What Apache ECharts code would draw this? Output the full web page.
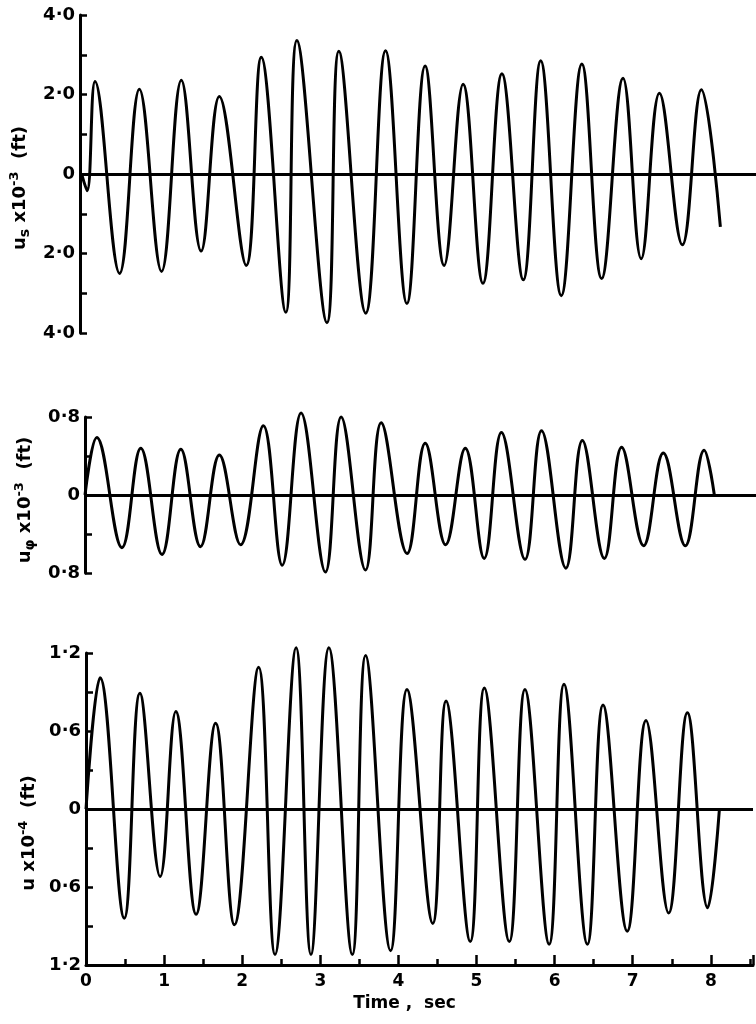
<!DOCTYPE html>
<html>
<head>
<meta charset="utf-8">
<script src="https://cdn.jsdelivr.net/npm/echarts@6/dist/echarts.min.js"></script>
<style>
html,body{margin:0;padding:0;background:#fff;}
#chart{width:756px;height:1024px;}
</style>
</head>
<body>
<div id="chart"></div>
<script>
// ---- data (time in s, displacement) ----
const topT = [0.02, 0.09, 0.19, 0.50, 0.75, 1.03, 1.28, 1.53, 1.76, 2.10, 2.29, 2.60, 2.74, 3.12, 3.27, 3.61, 3.86, 4.13, 4.36, 4.60, 4.84, 5.09, 5.33, 5.60, 5.82, 6.08, 6.34, 6.59, 6.86, 7.09, 7.32, 7.61, 7.85, 8.09];
const topV = [0, -0.42, 2.33, -2.50, 2.13, -2.45, 2.36, -1.94, 1.95, -2.30, 2.94, -3.48, 3.36, -3.74, 3.09, -3.50, 3.10, -3.26, 2.72, -2.30, 2.26, -2.75, 2.52, -2.66, 2.85, -3.06, 2.77, -2.63, 2.41, -2.13, 2.03, -1.78, 2.12, -1.33];

const midT = [0, 0.15, 0.47, 0.71, 0.98, 1.22, 1.47, 1.71, 1.98, 2.27, 2.51, 2.75, 3.06, 3.26, 3.57, 3.77, 4.10, 4.33, 4.59, 4.84, 5.08, 5.30, 5.60, 5.81, 6.12, 6.33, 6.61, 6.83, 7.11, 7.36, 7.64, 7.88, 8.01];
const midV = [0, 0.59, -0.54, 0.48, -0.61, 0.47, -0.53, 0.41, -0.51, 0.71, -0.72, 0.84, -0.79, 0.80, -0.77, 0.74, -0.60, 0.53, -0.51, 0.48, -0.65, 0.64, -0.66, 0.66, -0.75, 0.56, -0.65, 0.49, -0.52, 0.43, -0.52, 0.46, 0];

const botT = [0, 0.18, 0.49, 0.69, 0.95, 1.15, 1.41, 1.66, 1.90, 2.21, 2.42, 2.69, 2.88, 3.11, 3.41, 3.58, 3.90, 4.11, 4.44, 4.61, 4.92, 5.10, 5.42, 5.62, 5.93, 6.12, 6.42, 6.62, 6.93, 7.17, 7.46, 7.70, 7.96, 8.11];
const botV = [0, 1.01, -0.84, 0.89, -0.52, 0.75, -0.81, 0.66, -0.89, 1.09, -1.12, 1.24, -1.12, 1.24, -1.12, 1.18, -1.09, 0.92, -0.88, 0.83, -1.02, 0.93, -1.02, 0.92, -1.04, 0.96, -1.04, 0.80, -0.94, 0.68, -0.80, 0.74, -0.76, 0];

const xTickLabels = ['0', '1', '2', '3', '4', '5', '6', '7', '8'];
const topName = '{b|u}{sub|s}{b| x10}{sup|-3}{b|  (ft)}';
const midName = '{b|u}{sub|φ}{b| x10}{sup|-3}{b|  (ft)}';
const botName = '{b|u x10}{sup|-4}{b|  (ft)}';
const xName = 'Time ,  sec';

// ---- styling ----
const FONT = 'DejaVu Sans';
const BLACK = '#000';

function pairs(t, v) { return t.map((x, i) => [x, v[i]]); }

function yFmt(step10) {
  return function (v) {
    const r = Math.round(v * 10);
    if (r % step10 !== 0) return '';
    if (r === 0) return '0';
    return (Math.abs(r) / 10).toFixed(1).replace('.', '\u00B7');
  };
}

const nameRich = {
  b: { fontFamily: FONT, fontWeight: 'bold', fontSize: 18, color: BLACK, lineHeight: 24 },
  sub: { fontFamily: FONT, fontWeight: 'bold', fontSize: 14, color: BLACK, verticalAlign: 'bottom', lineHeight: 24 },
  sup: { fontFamily: FONT, fontWeight: 'bold', fontSize: 13, color: BLACK, verticalAlign: 'top', lineHeight: 24 }
};

function yAxis(gi, min, max, interval, step10, name, gap, shift) {
  return {
    type: 'value', gridIndex: gi, min: min, max: max, interval: interval,
    axisLine: { show: true, onZero: false, lineStyle: { color: BLACK, width: 3 } },
    axisTick: { show: true, inside: true, length: 7, lineStyle: { color: BLACK, width: 2.5 } },
    axisLabel: { formatter: yFmt(step10), color: BLACK, fontFamily: FONT, fontWeight: 'bold', fontSize: 18, margin: 5 },
    splitLine: { show: false },
    name: name, nameLocation: 'middle', nameRotate: 90, nameGap: gap,
    nameTextStyle: { rich: nameRich, padding: [0, shift, 0, 0] }
  };
}

function hiddenX(gi) {
  return {
    type: 'value', gridIndex: gi, min: 0, max: 8.54,
    axisLine: { show: false }, axisTick: { show: false }, axisLabel: { show: false }, splitLine: { show: false }
  };
}

function series(gi, t, v) {
  return {
    type: 'line', xAxisIndex: gi, yAxisIndex: gi,
    data: pairs(t, v), smooth: 0.4, showSymbol: false, clip: false,
    lineStyle: { color: BLACK, width: 3 },
    markLine: {
      silent: true, symbol: ['none', 'none'], label: { show: false },
      lineStyle: { color: BLACK, width: 3, type: 'solid' },
      data: [{ yAxis: 0 }]
    }
  };
}

const chart = echarts.init(document.getElementById('chart'), null, { renderer: 'canvas' });
chart.setOption({
  animation: false,
  backgroundColor: '#fff',
  grid: [
    { left: 80, right: -3, top: 15, height: 318 },
    { left: 85, right: -3, top: 417, height: 156 },
    { left: 86, right: -3, top: 653, height: 312 }
  ],
  xAxis: [
    hiddenX(0),
    hiddenX(1),
    {
      type: 'value', gridIndex: 2, min: 0, max: 8.54, interval: 1,
      axisLine: { show: true, onZero: false, lineStyle: { color: BLACK, width: 3 } },
      axisTick: { show: true, inside: true, length: 10, lineStyle: { color: BLACK, width: 2.5 } },
      minorTick: { show: true, splitNumber: 2, length: 6, lineStyle: { color: BLACK, width: 2.5 } },
      axisLabel: {
        color: BLACK, fontFamily: FONT, fontWeight: 'bold', fontSize: 17, margin: 8,
        formatter: function (v) { const i = Math.round(v); return Math.abs(v - i) < 1e-6 && xTickLabels[i] !== undefined ? xTickLabels[i] : ''; }
      },
      splitLine: { show: false },
      name: xName, nameLocation: 'middle', nameGap: 30,
      nameTextStyle: { color: BLACK, fontFamily: FONT, fontWeight: 'bold', fontSize: 17, padding: [0, 30, 0, 0] }
    }
  ],
  yAxis: [
    yAxis(0, -4, 4, 1, 20, topName, 40, 28),
    yAxis(1, -0.8, 0.8, 0.4, 8, midName, 42, 10),
    yAxis(2, -1.2, 1.2, 0.3, 6, botName, 40, 48)
  ],
  series: [
    series(0, topT, topV),
    series(1, midT, midV),
    series(2, botT, botV)
  ]
});
</script>
</body>
</html>
